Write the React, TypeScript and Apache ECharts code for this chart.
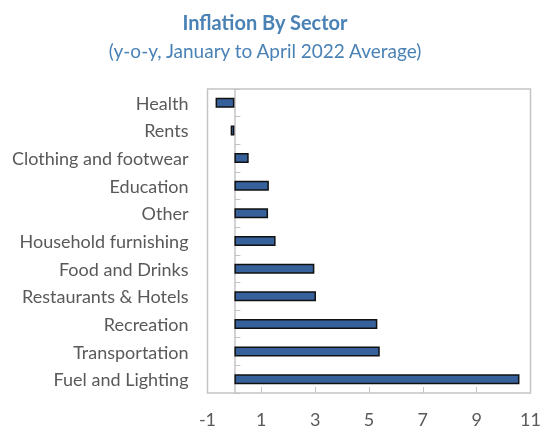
import React, { useEffect, useRef } from "react";
import * as echarts from "echarts";

const categories = [
  "Health",
  "Rents",
  "Clothing and footwear",
  "Education",
  "Other",
  "Household furnishing",
  "Food and Drinks",
  "Restaurants & Hotels",
  "Recreation",
  "Transportation",
  "Fuel and Lighting",
];
const values = [-0.7, -0.14, 0.53, 1.28, 1.25, 1.53, 2.97, 3.03, 5.31, 5.4, 10.59];

const FONT = "Lato";

export default function App() {
  const ref = useRef<HTMLDivElement>(null);
  useEffect(() => {
    const chart = echarts.init(ref.current!, null, { renderer: "svg" });
    chart.setOption({
      animation: false,
      title: [
        {
          text: "Inflation By Sector",
          left: 260,
          top: 7,
          textAlign: "center",
          textStyle: { fontFamily: FONT, fontSize: 20, fontWeight: "bold", color: "#4a82b5" },
        },
        {
          text: "(y-o-y, January to April 2022 Average)",
          left: 260,
          top: 36,
          textAlign: "center",
          textStyle: { fontFamily: FONT, fontSize: 19, fontWeight: "normal", color: "#4a82b5" },
        },
      ],
      grid: {
        left: 207.5,
        right: 15.5,
        top: 89,
        bottom: 40,
        show: true,
        borderColor: "#c4c4c4",
        borderWidth: 1.5,
        containLabel: false,
        outerBoundsMode: "none",
      },
      xAxis: {
        type: "value",
        min: -1,
        max: 11,
        interval: 2,
        axisLine: { show: false },
        axisTick: { show: true, inside: true, length: 6, lineStyle: { color: "#c4c4c4" } },
        splitLine: { show: false },
        axisLabel: { fontFamily: FONT, fontSize: 18, color: "#595959", margin: 17 },
      },
      yAxis: {
        type: "category",
        data: categories,
        inverse: true,
        axisLine: { show: true, onZero: true, lineStyle: { color: "#c4c4c4", width: 1.5 } },
        axisTick: { show: true, inside: true, length: 6, lineStyle: { color: "#c4c4c4" } },
        axisLabel: { fontFamily: FONT, fontSize: 18, color: "#595959", margin: 19 },
      },
      series: [
        {
          type: "bar",
          data: values,
          barWidth: 10,
          itemStyle: { color: "#36619a", borderColor: "#111111", borderWidth: 1.5 },
        },
      ],
    });
    return () => chart.dispose();
  }, []);
  return <div ref={ref} style={{ position: "fixed", left: 0, top: 0, width: 546, height: 433 }} />;
}
